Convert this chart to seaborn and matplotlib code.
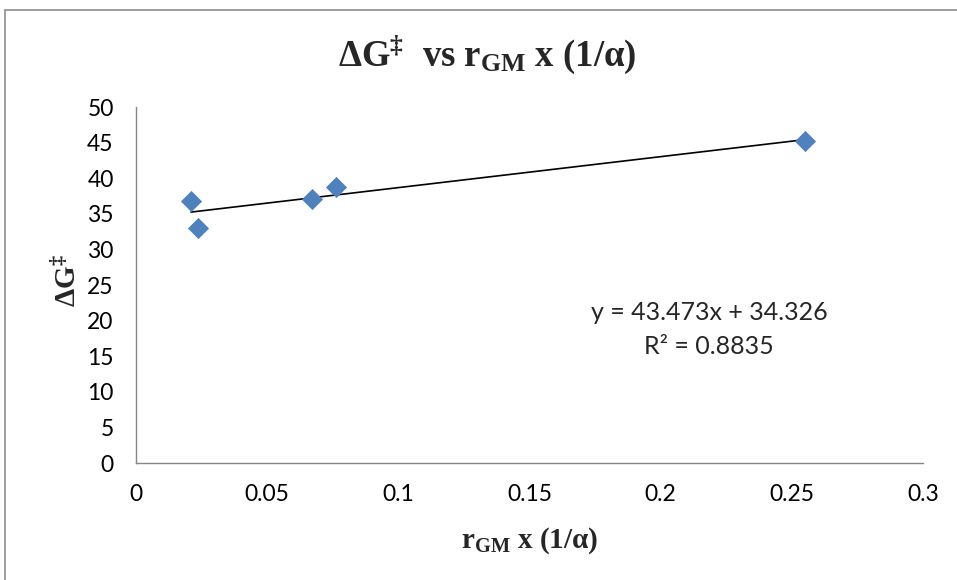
import numpy as np
import pandas as pd
import matplotlib
matplotlib.use('Agg')
import matplotlib.pyplot as plt
from matplotlib.ticker import FuncFormatter, MultipleLocator
from matplotlib.patches import Rectangle
import seaborn as sns

# data
r_gm_alpha = [0.021, 0.0236, 0.067, 0.0762, 0.255]
delta_g = [36.8, 33.0, 37.1, 38.8, 45.2]
eq_text = 'y = 43.473x + 34.326'
r2_text = 'R² = 0.8835'

df = pd.DataFrame({'x': r_gm_alpha, 'y': delta_g})

sns.set_style('white')
plt.rcParams['font.family'] = ['Lato', 'DejaVu Sans']
plt.rcParams['mathtext.fontset'] = 'custom'
plt.rcParams['mathtext.rm'] = 'Liberation Serif:bold'
plt.rcParams['mathtext.it'] = 'Liberation Serif:bold'
plt.rcParams['mathtext.bf'] = 'Liberation Serif:bold'

fig = plt.figure(figsize=(9.57, 5.80), dpi=100)
ax = fig.add_axes([0.142, 0.2017, 0.8225, 0.6138])

# outer chart border (cropped on the right/bottom)
fig.patches.append(Rectangle((5 / 957, -0.05), 1.1, 1 - 10 / 580 + 0.05,
                             transform=fig.transFigure, fill=False,
                             edgecolor='#8c8c8c', lw=1.2))

# trendline first, markers on top
sns.regplot(data=df, x='x', y='y', ax=ax, scatter=False, ci=None,
            truncate=True, line_kws={'color': 'black', 'lw': 1.2})
sns.scatterplot(data=df, x='x', y='y', ax=ax, marker='D', s=105,
                color='#4F81BD', edgecolor='#4A7EBB', linewidth=0.5, zorder=3)

ax.set_xlim(0, 0.3)
ax.set_ylim(0, 50)
ax.xaxis.set_major_locator(MultipleLocator(0.05))
ax.yaxis.set_major_locator(MultipleLocator(5))
ax.xaxis.set_major_formatter(FuncFormatter(lambda v, p: '%g' % round(v, 2)))

for side in ['top', 'right']:
    ax.spines[side].set_visible(False)
for side in ['left', 'bottom']:
    ax.spines[side].set_color('#868686')
    ax.spines[side].set_linewidth(1.0)
ax.tick_params(axis='both', direction='out', length=6, width=1.0,
               color='#868686', labelsize=16.5, labelcolor='black', pad=10)
ax.tick_params(axis='x', pad=9)
ax.set_xlabel('')
ax.set_ylabel('')

fig.text(487 / 957, 1 - 55 / 580, 'ΔG$^{‡}$  vs r$_{GM}$ x (1/α)',
         fontsize=26.5, fontweight='bold', family='Liberation Serif',
         ha='center', va='center')
fig.text(530 / 957, 1 - 541 / 580, 'r$_{GM}$ x (1/α)', fontsize=21,
         fontweight='bold', family='Liberation Serif', ha='center', va='center')
fig.text(68 / 957, 1 - 281 / 580, 'ΔG$^{‡}$', fontsize=21, rotation=90,
         fontweight='bold', family='Liberation Serif', ha='center', va='center')

ax.text(0.2185, 21.1, eq_text, ha='center', va='center', fontsize=18)
ax.text(0.2185, 16.3, r2_text, ha='center', va='center', fontsize=18)

fig.savefig('out.png', dpi=100)
